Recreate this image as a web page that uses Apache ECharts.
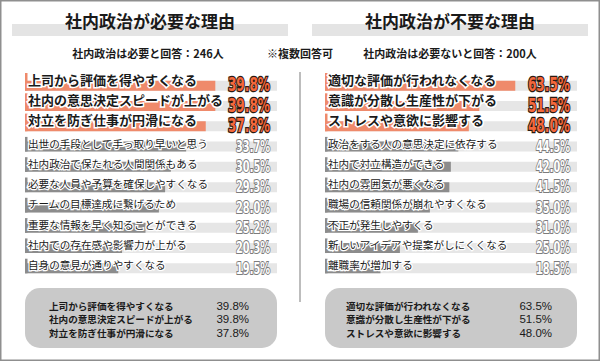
<!DOCTYPE html>
<html><head><meta charset="utf-8">
<script src="https://cdn.jsdelivr.net/npm/echarts@6/dist/echarts.min.js"></script>
<style>html,body{margin:0;padding:0;background:#fff}#c{width:600px;height:361px}</style>
</head><body><div id="c"></div>
<script>
const leftTitle = '社内政治が必要な理由';
const rightTitle = '社内政治が不要な理由';
const leftSub = '社内政治は必要と回答：246人';
const rightSub = '社内政治は必要ないと回答：200人';
const midNote = '※複数回答可';
const leftCats = ['上司から評価を得やすくなる','社内の意思決定スピードが上がる','対立を防ぎ仕事が円滑になる','出世の手段として手っ取り早いと思う','社内政治で保たれる人間関係もある','必要な人員や予算を確保しやすくなる','チームの目標達成に繋げるため','重要な情報を早く知ることができる','社内での存在感や影響力が上がる','自身の意見が通りやすくなる'];
const leftVals = [39.8,39.8,37.8,33.7,30.5,29.3,28.0,25.2,20.3,19.5];
const rightCats = ['適切な評価が行われなくなる','意識が分散し生産性が下がる','ストレスや意欲に影響する','政治をする人の意思決定に依存する','社内で対立構造ができる','社内の雰囲気が悪くなる','職場の信頼関係が崩れやすくなる','不正が発生しやすくる','新しいアイデアや提案がしにくくなる','離職率が増加する'];
const rightVals = [63.5,51.5,48.0,44.5,42.0,41.5,35.0,31.0,25.0,18.5];
const leftMax = 52.7, rightMax = 84.1;
const TOP_N = 3;

const CJK = '"Noto Sans CJK JP","Noto Sans CJK SC",sans-serif';
const NUMF = '"DejaVu Sans Condensed","Liberation Sans",sans-serif';

function makeRender(cats, vals, max) {
  return function (params, api) {
    const i = params.dataIndex;
    const cat = api.value(1);
    const p0 = api.coord([0, cat]);
    const p1 = api.coord([api.value(0), cat]);
    const pe = api.coord([max, cat]);
    const band = api.size([0, 1])[1];
    const cy = p0[1];
    const top = i < TOP_N;
    const col = top ? '#ef8a6b' : '#8c8c8c';
    const barY = cy - 0.5, barH = 10;
    const stripY = cy - band / 2 + (top ? 2 : 5);
    return {
      type: 'group',
      children: [
        {type: 'rect', shape: {x: p0[0], y: barY, width: pe[0] - p0[0], height: barH}, style: {fill: '#e6e6e6'}},
        {type: 'rect', shape: {x: p0[0], y: barY, width: p1[0] - p0[0], height: barH}, style: {fill: col}},
        {type: 'rect', shape: {x: p0[0], y: stripY, width: 2.5, height: barY + barH - stripY}, style: {fill: col}},
        {type: 'text', style: {text: cats[i], x: p0[0] + 3, y: top ? cy - 2 : cy + 1, fill: '#1a1a1a', stroke: '#fff', lineWidth: top ? 3 : 2.5, strokeFirst: true,
          fontSize: top ? 13 : 10.6, fontWeight: top ? 'bold' : 'normal', fontFamily: CJK, align: 'left', verticalAlign: 'middle'}},
        {type: 'text', x: pe[0] - 7, y: cy + 4, scaleX: top ? 0.71 : 0.68, style: {text: vals[i].toFixed(1) + '%', x: 0, y: 0, fill: top ? '#f4683c' : '#ffffff', stroke: top ? '#2a1a12' : '#7c7c7c', lineWidth: top ? 2.5 : 2, strokeFirst: true,
          fontSize: top ? 19 : 16, fontWeight: 'bold', fontFamily: NUMF, align: 'right', verticalAlign: 'middle'}}
      ]
    };
  };
}

function summary(x0, cats, vals, textX, valX) {
  const els = [{type: 'rect', shape: {x: x0, y: 288, width: 252, height: 60, r: 15}, style: {fill: '#c9c9c9'}}];
  const ys = [305.5, 319, 332.5];
  for (let i = 0; i < TOP_N; i++) {
    els.push({type: 'text', style: {text: cats[i], x: textX, y: ys[i], fill: '#1a1a1a', fontSize: 9.6, lineHeight: 11, fontWeight: 'bold', fontFamily: CJK, verticalAlign: 'middle'}});
    els.push({type: 'text', style: {text: vals[i].toFixed(1) + '%', x: valX, y: ys[i], fill: '#1a1a1a', fontSize: 11.5, lineHeight: 12, fontFamily: '"Liberation Sans",Arial,sans-serif', align: 'right', verticalAlign: 'middle'}});
  }
  return els;
}

const chart = echarts.init(document.getElementById('c'), null, {renderer: 'svg'});
chart.setOption({
  animation: false,
  grid: [
    {left: 25, width: 252, top: 71, height: 203},
    {left: 325, width: 252, top: 71, height: 203}
  ],
  xAxis: [
    {gridIndex: 0, type: 'value', min: 0, max: leftMax, show: false},
    {gridIndex: 1, type: 'value', min: 0, max: rightMax, show: false}
  ],
  yAxis: [
    {gridIndex: 0, type: 'category', data: leftCats, inverse: true, show: false},
    {gridIndex: 1, type: 'category', data: rightCats, inverse: true, show: false}
  ],
  graphic: [
    {type: 'rect', shape: {x: 0.75, y: 0.75, width: 598.5, height: 359.5}, style: {fill: 'none', stroke: '#8f8f8f', lineWidth: 1.5}},
    {type: 'rect', shape: {x: 12, y: 24, width: 276, height: 12}, style: {fill: '#e4e4e4'}},
    {type: 'rect', shape: {x: 312, y: 24, width: 276, height: 12}, style: {fill: '#e4e4e4'}},
    {type: 'text', style: {text: leftTitle, x: 150, y: 20, fill: '#1a1a1a', fontSize: 17, fontWeight: 'bold', fontFamily: CJK, align: 'center', verticalAlign: 'middle'}},
    {type: 'text', style: {text: rightTitle, x: 450, y: 20, fill: '#1a1a1a', fontSize: 17, fontWeight: 'bold', fontFamily: CJK, align: 'center', verticalAlign: 'middle'}},
    {type: 'text', style: {text: leftSub, x: 148, y: 53, fill: '#1a1a1a', fontSize: 11, fontWeight: 'bold', fontFamily: CJK, align: 'center', verticalAlign: 'middle'}},
    {type: 'text', style: {text: midNote, x: 300, y: 53, fill: '#1a1a1a', fontSize: 11, fontWeight: 'bold', fontFamily: CJK, align: 'center', verticalAlign: 'middle'}},
    {type: 'text', style: {text: rightSub, x: 450, y: 53, fill: '#1a1a1a', fontSize: 11, fontWeight: 'bold', fontFamily: CJK, align: 'center', verticalAlign: 'middle'}},
    {type: 'line', shape: {x1: 300, y1: 72, x2: 300, y2: 302}, style: {stroke: '#bdbdbd', lineWidth: 2}},
    ...summary(25, leftCats, leftVals, 49, 249),
    ...summary(325, rightCats, rightVals, 346, 552)
  ],
  series: [
    {type: 'custom', xAxisIndex: 0, yAxisIndex: 0, encode: {x: 0, y: 1}, data: leftCats.map((c, i) => [leftVals[i], c]), renderItem: makeRender(leftCats, leftVals, leftMax)},
    {type: 'custom', xAxisIndex: 1, yAxisIndex: 1, encode: {x: 0, y: 1}, data: rightCats.map((c, i) => [rightVals[i], c]), renderItem: makeRender(rightCats, rightVals, rightMax)}
  ]
});
</script></body></html>
